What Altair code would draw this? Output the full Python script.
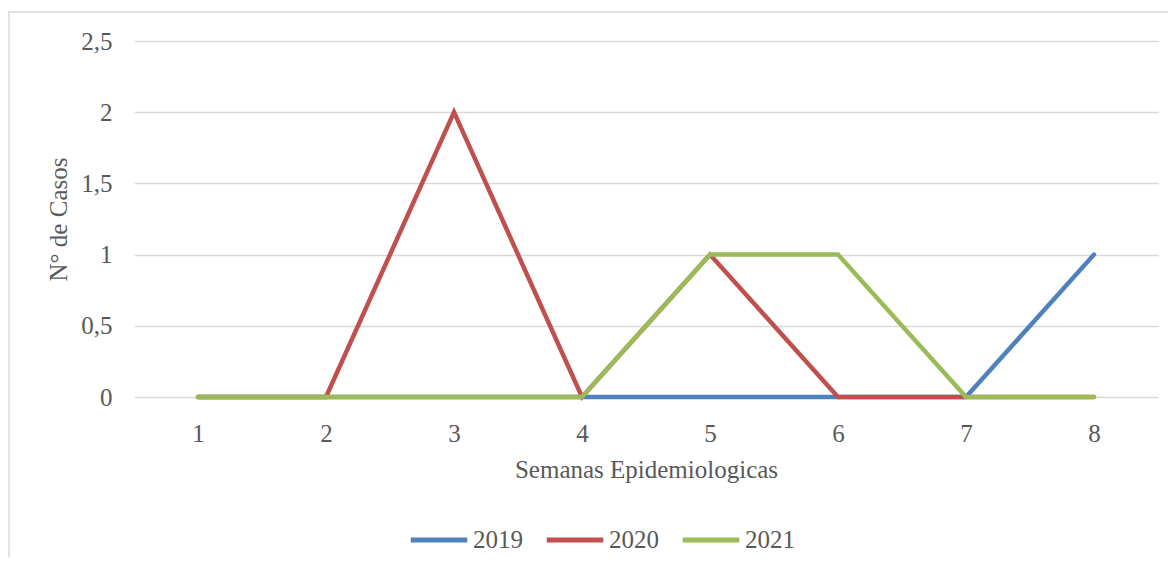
import altair as alt
import pandas as pd

semanas = [1, 2, 3, 4, 5, 6, 7, 8]
casos_2019 = [0, 0, 0, 0, 0, 0, 0, 1]
casos_2020 = [0, 0, 2, 0, 1, 0, 0, 0]
casos_2021 = [0, 0, 0, 0, 1, 1, 0, 0]
anos = ["2019", "2020", "2021"]
colores = ["#4f81bd", "#c0504d", "#9bbb59"]
y_ticks = [0, 0.5, 1, 1.5, 2, 2.5]

rows = []
for ano, serie in zip(anos, [casos_2019, casos_2020, casos_2021]):
    for s, v in zip(semanas, serie):
        rows.append({"semana": s, "casos": v, "ano": ano})
df = pd.DataFrame(rows)

FONT = "Liberation Serif"
TXT = "#595959"
W, H = 1024, 356

border = alt.Chart(pd.DataFrame({"a": [0]})).mark_rect(
    fill="transparent", stroke="#d9d9d9", strokeWidth=1.5
).encode(
    x=alt.value(-125), x2=alt.value(1060), y=alt.value(-29), y2=alt.value(560)
)

lines = alt.Chart(df).mark_line(
    strokeWidth=4.5, strokeCap="round", strokeJoin="miter"
).encode(
    x=alt.X("semana:O", scale=alt.Scale(type="point", padding=0.5),
            axis=alt.Axis(title="Semanas Epidemiologicas", labelAngle=0,
                          domain=False, ticks=False, grid=False,
                          labelPadding=24, titlePadding=11)),
    y=alt.Y("casos:Q", scale=alt.Scale(domain=[0, 2.5], nice=False),
            axis=alt.Axis(title="N° de Casos", values=y_ticks,
                          labelExpr="replace(format(datum.value, '~g'), '.', ',')",
                          domain=False, ticks=False, grid=True,
                          gridColor="#d9d9d9", gridWidth=1.3,
                          labelPadding=22, titlePadding=9)),
    color=alt.Color("ano:N", scale=alt.Scale(domain=anos, range=colores),
                    legend=alt.Legend(title=None, orient="none", direction="horizontal",
                                      legendX=274, legendY=468,
                                      symbolType="stroke", symbolSize=3200,
                                      symbolStrokeWidth=5, labelOffset=3,
                                      columnPadding=13)),
    order=alt.Order("semana:O"),
)

chart = alt.layer(lines, border).properties(
    width=W, height=H,
    autosize=alt.AutoSizeParams(type="none"),
    padding={"left": 126, "top": 33, "right": 10, "bottom": 160},
).configure_view(stroke=None).configure_axis(
    labelFont=FONT, titleFont=FONT, labelFontSize=25, titleFontSize=25,
    labelColor=TXT, titleColor=TXT, titleFontWeight="normal",
).configure_legend(
    labelFont=FONT, labelFontSize=25, labelColor=TXT
)

chart.save("out.html", embed_options={"renderer": "svg", "actions": False})
